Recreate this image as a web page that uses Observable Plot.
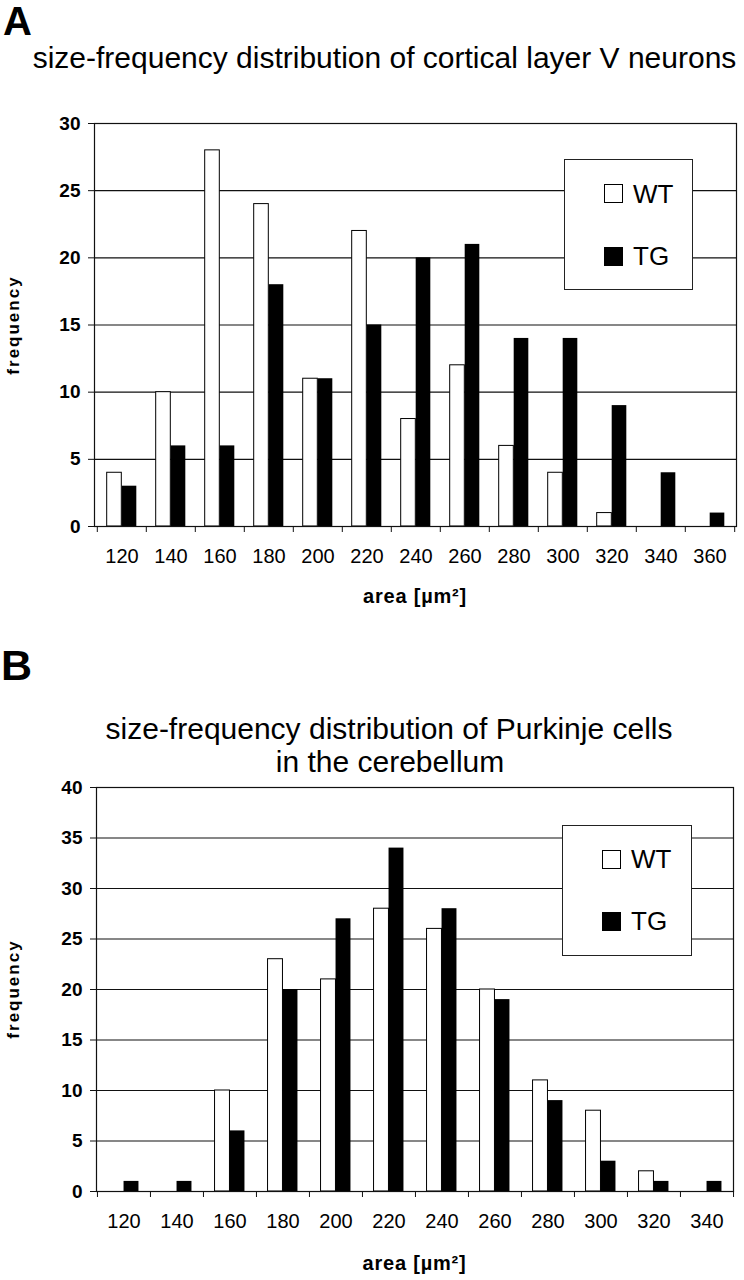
<!DOCTYPE html>
<html><head><meta charset="utf-8">
<script src="https://cdn.jsdelivr.net/npm/d3@7"></script>
<script src="https://cdn.jsdelivr.net/npm/@observablehq/plot@0.6"></script>
<style>
body{margin:0;background:#fff;}
#page{position:relative;width:744px;height:1280px;overflow:hidden;font-family:"Liberation Sans",Arial,Helvetica,sans-serif;color:#000;background:#fff;}
.t{position:absolute;white-space:nowrap;line-height:1;}
.holder{position:absolute;left:0;}
.legend{position:absolute;box-sizing:border-box;border:1.5px solid #222;background:#fff;}
.sw{position:absolute;box-sizing:border-box;width:19px;height:19px;border:1px solid #000;}
</style></head><body><div id="page"></div>
<script>
// ---------- data ----------
const categoriesA = [120, 140, 160, 180, 200, 220, 240, 260, 280, 300, 320, 340, 360];
const wtA = [4, 10, 28, 24, 11, 22, 8, 12, 6, 4, 1, 0, 0];
const tgA = [3, 6, 6, 18, 11, 15, 20, 21, 14, 14, 9, 4, 1];
const yTicksA = [0, 5, 10, 15, 20, 25, 30];

const categoriesB = [120, 140, 160, 180, 200, 220, 240, 260, 280, 300, 320, 340];
const wtB = [0, 0, 10, 23, 21, 28, 26, 20, 11, 8, 2, 0];
const tgB = [1, 1, 6, 20, 27, 34, 28, 19, 9, 3, 1, 1];
const yTicksB = [0, 5, 10, 15, 20, 25, 30, 35, 40];

const seriesNames = ["WT", "TG"];
const titleA = "size-frequency distribution of cortical layer V neurons";
const titleB1 = "size-frequency distribution of Purkinje cells";
const titleB2 = "in the cerebellum";
const xLabel = "area [µm²]";
const yLabel = "frequency";

const FONT = '"Liberation Sans", Arial, Helvetica, sans-serif';
const page = document.getElementById("page");

function chart(cats, wt, tg, yTicks, dims) {
  const {width, height, marginTop, marginBottom, marginLeft, marginRight} = dims;
  const n = cats.length;
  const bw = (width - marginLeft - marginRight) / n;
  const w = 15;
  const rows = cats.flatMap((c, i) => [
    {cat: c, series: seriesNames[0], value: wt[i]},
    {cat: c, series: seriesNames[1], value: tg[i]}
  ]);
  const last = cats[n - 1];
  return Plot.plot({
    width, height, marginTop, marginBottom, marginLeft, marginRight,
    style: {fontFamily: FONT, background: "transparent", color: "#000", overflow: "visible"},
    x: {type: "band", domain: cats, padding: 0, axis: null},
    y: {domain: [0, yTicks[yTicks.length - 1]], axis: null},
    marks: [
      Plot.gridY(yTicks, {stroke: "#111", strokeOpacity: 1, strokeWidth: 1.2}),
      Plot.barY(rows.filter(d => d.series === "WT"), {x: "cat", y: "value", fill: "white", stroke: "black", strokeWidth: 1, insetLeft: bw / 2 - w, insetRight: bw / 2}),
      Plot.barY(rows.filter(d => d.series === "TG"), {x: "cat", y: "value", fill: "black", insetLeft: bw / 2, insetRight: bw / 2 - w}),
      Plot.frame({stroke: "#111", strokeWidth: 1.2}),
      Plot.axisY(yTicks, {tickSize: 6, tickPadding: 8, fontSize: 19, fontWeight: "bold", label: null, stroke: "#111"}),
      Plot.axisX(cats, {tickSize: 0, tickPadding: 22, fontSize: 20, label: null}),
      Plot.axisX(cats, {tickSize: 6, tickFormat: () => "", dx: -bw / 2, label: null, stroke: "#111"}),
      Plot.axisX([last], {tickSize: 6, tickFormat: () => "", dx: bw / 2, label: null, stroke: "#111"})
    ]
  });
}

function place(el, top) {
  const d = document.createElement("div");
  d.className = "holder";
  d.style.top = top + "px";
  d.appendChild(el);
  page.appendChild(d);
}

function text(str, opts) {
  const d = document.createElement("div");
  d.className = "t";
  d.textContent = str;
  const fs = opts.fs;
  d.style.fontSize = fs + "px";
  d.style.fontWeight = opts.bold ? "bold" : "normal";
  if (opts.ls) d.style.letterSpacing = opts.ls + "px";
  if (opts.rotate) {
    d.style.left = opts.x + "px";
    d.style.top = opts.y + "px";
    d.style.transform = "translate(-50%,-50%) rotate(-90deg)";
  } else {
    d.style.top = (opts.baseline - 0.8465 * fs) + "px";
    d.style.left = opts.x + "px";
    if (opts.center) d.style.transform = "translateX(-50%)";
  }
  page.appendChild(d);
  return d;
}

function legend(box, sq1, sq2, t1, t2) {
  const l = document.createElement("div");
  l.className = "legend";
  Object.assign(l.style, {left: box.x + "px", top: box.y + "px", width: box.w + "px", height: box.h + "px"});
  page.appendChild(l);
  const s1 = document.createElement("div");
  s1.className = "sw";
  Object.assign(s1.style, {left: sq1.x + "px", top: sq1.y + "px", background: "#fff"});
  page.appendChild(s1);
  const s2 = document.createElement("div");
  s2.className = "sw";
  Object.assign(s2.style, {left: sq2.x + "px", top: sq2.y + "px", background: "#000"});
  page.appendChild(s2);
  text(seriesNames[0], {fs: 26, x: t1.x, baseline: t1.b});
  text(seriesNames[1], {fs: 26, x: t2.x, baseline: t2.b});
}

// ---------- panel A ----------
place(chart(categoriesA, wtA, tgA, yTicksA,
  {width: 744, height: 530, marginTop: 23, marginBottom: 104, marginLeft: 94, marginRight: 8}), 100);
text("A", {fs: 40, bold: true, x: 3, baseline: 35});
text(titleA, {fs: 30, x: 384.5, baseline: 68, center: true});
text(xLabel, {fs: 20, bold: true, ls: 0.8, x: 415, baseline: 603, center: true});
text(yLabel, {fs: 17, bold: true, ls: 2, x: 13, y: 325, rotate: true});
legend({x: 564, y: 159, w: 129, h: 131}, {x: 604, y: 184}, {x: 604, y: 247}, {x: 633, b: 203}, {x: 633, b: 265.5});

// ---------- panel B ----------
place(chart(categoriesB, wtB, tgB, yTicksB,
  {width: 744, height: 510, marginTop: 17, marginBottom: 89, marginLeft: 96, marginRight: 11}), 770);
text("B", {fs: 43, bold: true, x: 1, baseline: 680});
text(titleB1, {fs: 30, x: 389, baseline: 739, center: true});
text(titleB2, {fs: 30, x: 390, baseline: 772, center: true});
text(xLabel, {fs: 20, bold: true, ls: 0.8, x: 414.5, baseline: 1270, center: true});
text(yLabel, {fs: 17, bold: true, ls: 2, x: 13, y: 989, rotate: true});
legend({x: 562, y: 825, w: 130, h: 131}, {x: 602, y: 850}, {x: 602, y: 912}, {x: 631, b: 868.3}, {x: 631, b: 930});
</script>
</body></html>
